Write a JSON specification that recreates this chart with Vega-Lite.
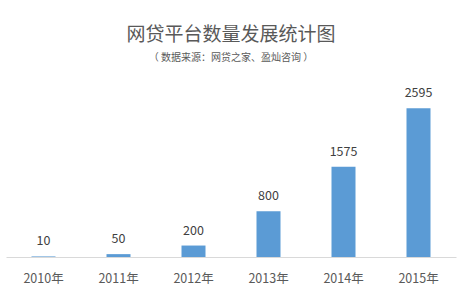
{
  "$schema": "https://vega.github.io/schema/vega-lite/v6.json",
  "width": 450,
  "height": 172,
  "autosize": {"type": "none"},
  "padding": {"left": 6, "top": 85, "right": 10, "bottom": 42},
  "background": "white",
  "title": {
    "text": "网贷平台数量发展统计图",
    "subtitle": "（ 数据来源：网贷之家、盈灿咨询 ）",
    "font": "Noto Sans CJK SC",
    "subtitleFont": "Noto Sans CJK SC",
    "fontSize": 19,
    "fontWeight": "normal",
    "color": "#595959",
    "subtitleFontSize": 10,
    "subtitleColor": "#595959",
    "subtitlePadding": 8,
    "offset": 22,
    "anchor": "middle"
  },
  "data": {
    "values": [
      {"year": "2010年", "count": 10},
      {"year": "2011年", "count": 50},
      {"year": "2012年", "count": 200},
      {"year": "2013年", "count": 800},
      {"year": "2014年", "count": 1575},
      {"year": "2015年", "count": 2595}
    ]
  },
  "encoding": {
    "x": {
      "field": "year",
      "type": "nominal",
      "sort": null,
      "scale": {"paddingInner": 0.68, "paddingOuter": 0.34},
      "axis": {
        "title": null,
        "labelAngle": 0,
        "ticks": false,
        "domainColor": "#d9d9d9",
        "domainWidth": 1,
        "labelFont": "Noto Sans CJK SC",
        "labelFontSize": 12.5,
        "labelColor": "#595959",
        "labelPadding": 15
      }
    },
    "y": {
      "field": "count",
      "type": "quantitative",
      "scale": {"domain": [0, 3000]},
      "axis": null
    }
  },
  "layer": [
    {"mark": {"type": "bar", "color": "#5b9bd5"}},
    {
      "mark": {
        "type": "text",
        "baseline": "bottom",
        "dy": -8,
        "font": "Noto Sans CJK SC",
        "fontSize": 12.5,
        "color": "#404040"
      },
      "encoding": {"text": {"field": "count", "type": "quantitative"}}
    }
  ],
  "config": {"view": {"stroke": null}}
}
